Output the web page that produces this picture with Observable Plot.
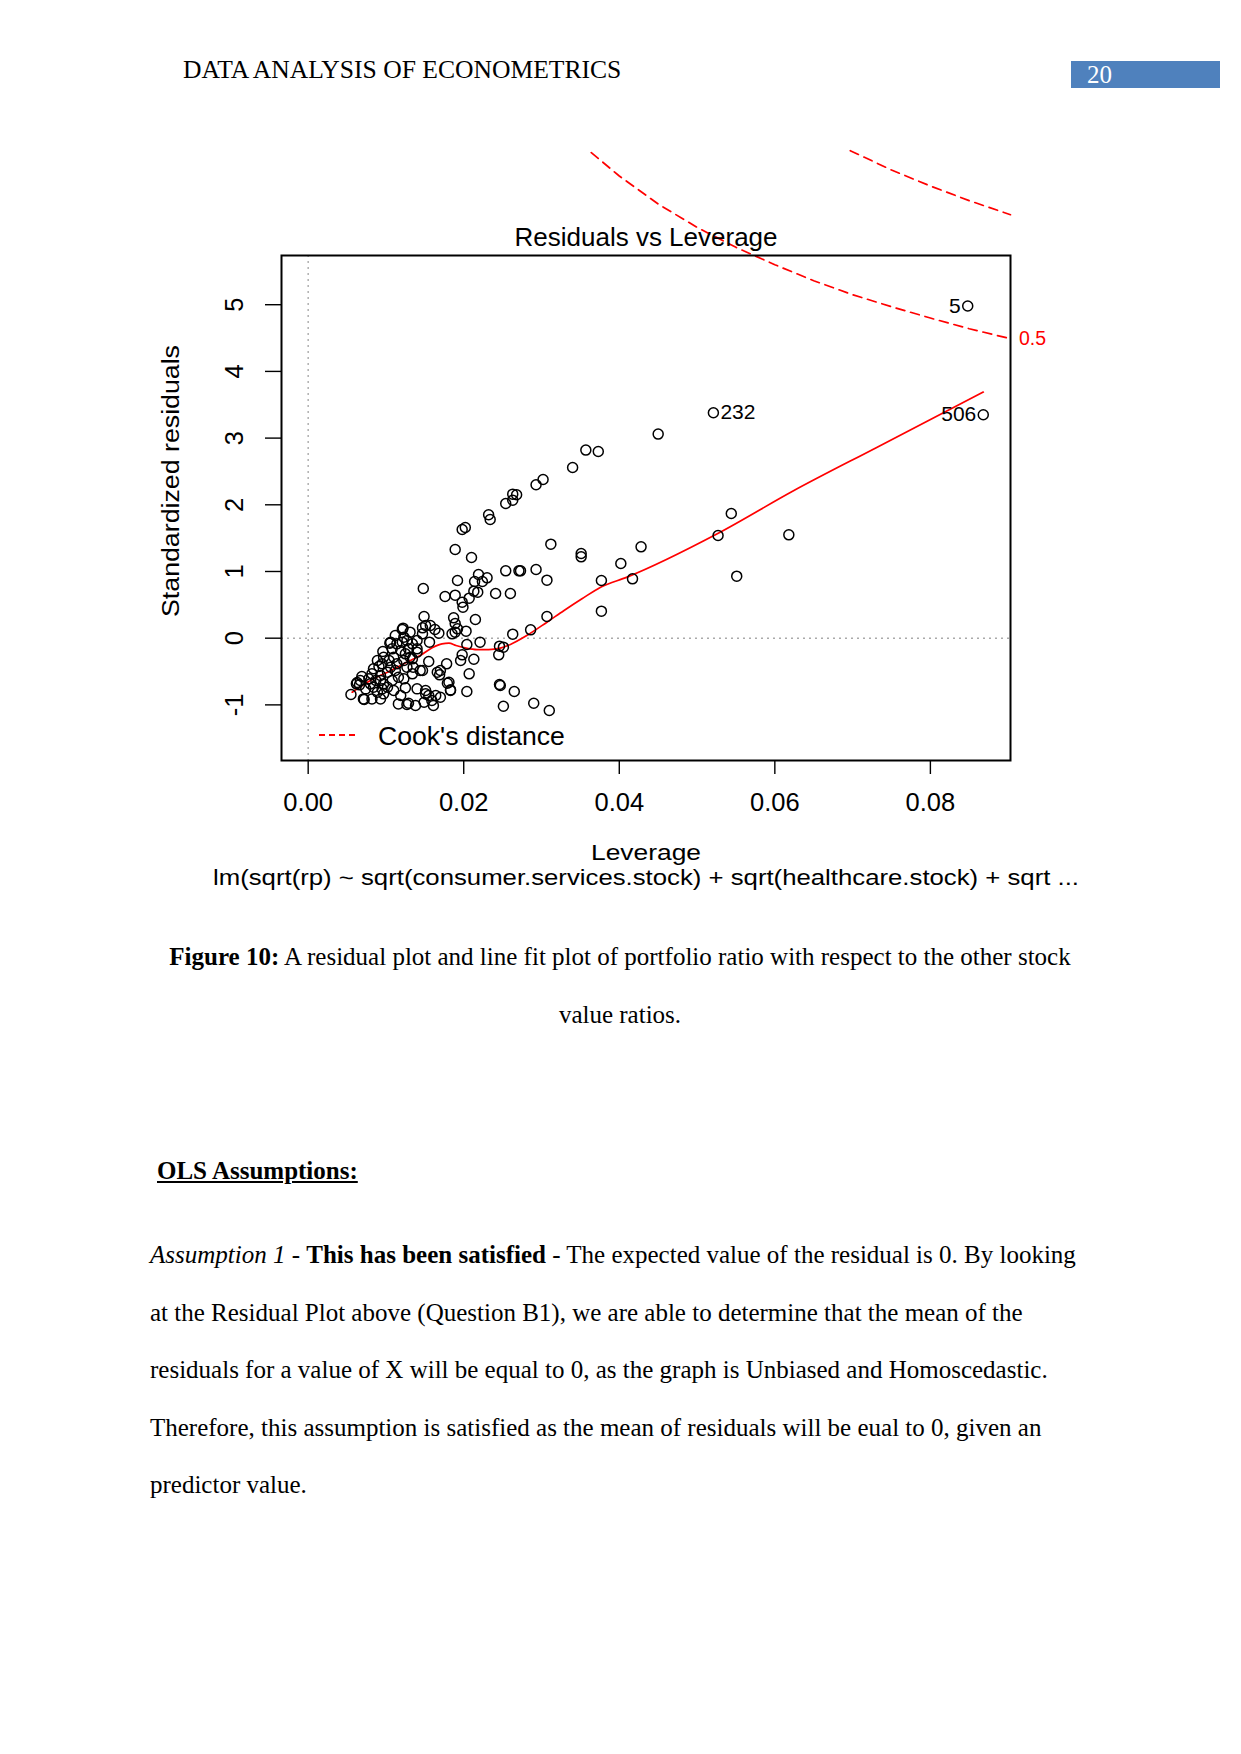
<!DOCTYPE html>
<html><head><meta charset="utf-8">
<script src="https://cdn.jsdelivr.net/npm/d3@7"></script>
<script src="https://cdn.jsdelivr.net/npm/@observablehq/plot@0.6"></script>
<style>
html,body{margin:0;padding:0;background:#fff;}
#page{position:relative;width:1241px;height:1754px;overflow:hidden;font-family:"Liberation Serif","Times New Roman",serif;color:#000;background:#fff;}
.abs{position:absolute;white-space:nowrap;line-height:1;}
.serif{font-size:25px;}
#chart{position:absolute;left:0;top:130px;}
#chart svg{overflow:visible;}
.sans{font-family:"Liberation Sans",Arial,sans-serif;}
</style>
</head><body>
<div id="page">
  <div class="abs serif" style="left:183px;top:57px;font-size:25.6px;">DATA ANALYSIS OF ECONOMETRICS</div>
  <div class="abs" style="left:1071px;top:61px;width:149px;height:27px;background:#4f81bd;"></div>
  <div class="abs serif" style="left:1087px;top:62px;color:#fff;">20</div>
  <div id="chart"></div>
  <div class="abs" style="left:319px;top:734px;width:36px;height:0;border-top:2px dashed #ff0000;"></div>
  <div class="abs sans" style="left:378px;top:723px;font-size:26.6px;">Cook's distance</div>
  <div class="abs serif" style="left:150px;top:944px;width:940px;text-align:center;"><b>Figure 10:</b> A residual plot and line fit plot of portfolio ratio with respect to the other stock</div>
  <div class="abs serif" style="left:150px;top:1002px;width:940px;text-align:center;">value ratios.</div>
  <div class="abs serif" style="left:157px;top:1158px;"><b><u>OLS Assumptions:</u></b></div>
  <div class="abs serif" style="left:150px;top:1242px;"><i>Assumption 1</i> - <b>This has been satisfied</b> - The expected value of the residual is 0. By looking</div>
  <div class="abs serif" style="left:150px;top:1300px;">at the Residual Plot above (Question B1), we are able to determine that the mean of the</div>
  <div class="abs serif" style="left:150px;top:1357px;">residuals for a value of X will be equal to 0, as the graph is Unbiased and Homoscedastic.</div>
  <div class="abs serif" style="left:150px;top:1415px;">Therefore, this assumption is satisfied as the mean of residuals will be eual to 0, given an</div>
  <div class="abs serif" style="left:150px;top:1472px;">predictor value.</div>
</div>
<script>
// ---- data ----
const leverage = [
  0.0848,0.0521,0.0868,0.0450,0.0357,0.0373,0.0340,0.0544,0.0527,0.0618,0.0351,0.0351,0.0428,0.0402,0.0377,0.0417,0.0551,
  0.0293,0.0302,0.0254,0.0263,0.0268,0.0263,0.0232,0.0234,0.0198,0.0202,0.0312,0.0189,0.0210,0.0254,0.0271,0.0273,0.0293,0.0307,
  0.0148,0.0192,0.0214,0.0219,0.0230,0.0224,0.0176,0.0189,0.0198,0.0199,0.0207,0.0213,0.0218,0.0241,0.0260,0.0377,0.0149,0.0187,
  0.0215,0.0307,0.0286,0.0263,0.0246,0.0251,0.0245,0.0221,0.0204,0.0189,0.0192,0.0185,0.0203,0.0198,0.0196,0.0213,0.0207,0.0204,
  0.0183,0.0179,0.0246,0.0247,0.0265,0.0251,0.0290,0.0310,0.0189,
  0.0151,0.0157,0.0147,0.0163,0.0121,0.0131,0.0147,0.0168,0.0156,0.0112,0.0106,0.0121,0.0134,0.0096,0.0108,0.0119,0.0110,0.0125,
  0.0134,0.0104,0.0095,0.0155,0.0144,0.0135,0.0170,0.0169,0.0166,0.0178,0.0084,0.0091,0.0082,0.0093,0.0078,0.0067,0.0102,0.0112,
  0.0108,0.0123,0.0134,0.0125,0.0087,0.0097,0.0095,0.0084,0.0074,0.0062,0.0055,0.0071,0.0082,0.0093,0.0097,0.0140,0.0151,0.0155,
  0.0164,0.0159,0.0170,0.0183,0.0181,0.0119,0.0116,0.0127,0.0138,0.0149,0.0161,
  0.0089,0.0097,0.0106,0.0114,0.0123,0.0127,0.0116,0.0093,0.0080,0.0102,0.0110,0.0089,0.0123,0.0129,0.0140,0.0140,0.0114,0.0127,
  0.0122,0.0105,0.0069,0.0063,0.0072,0.0131,0.0140,0.0147,0.0129,0.0151,0.0066
];
const stdResid = [
  4.98,3.38,3.35,3.06,2.82,2.80,2.56,1.87,1.54,1.55,1.27,1.22,1.37,1.12,0.865,0.89,0.93,
  2.30,2.38,2.02,2.07,2.15,2.16,1.85,1.78,1.63,1.66,1.41,1.33,1.21,1.01,1.01,1.01,1.03,0.87,
  0.745,0.865,0.85,0.955,0.905,0.85,0.625,0.645,0.54,0.465,0.60,0.705,0.69,0.67,0.67,0.405,0.325,0.305,
  0.28,0.325,0.125,0.06,-0.12,-0.135,-0.25,-0.06,-0.095,0.09,0.14,0.065,0.105,-0.25,-0.335,-0.315,-0.535,-0.80,
  -0.775,-0.675,-0.695,-0.71,-0.80,-1.02,-0.975,-1.085,0.22,
  0.19,0.19,0.155,0.13,0.13,0.09,0.065,0.075,-0.06,0.04,-0.06,-0.06,-0.085,-0.20,-0.16,-0.185,-0.285,-0.235,
  -0.31,-0.335,-0.385,-0.35,-0.485,-0.435,-0.485,-0.55,-0.51,-0.385,-0.46,-0.425,-0.535,-0.56,-0.61,-0.635,-0.51,-0.485,
  -0.635,-0.61,-0.535,-0.745,-0.635,-0.685,-0.76,-0.735,-0.76,-0.685,-0.845,-0.91,-0.91,-0.91,-0.835,-0.76,-0.785,-0.86,
  -0.86,-0.935,-0.885,-0.785,-0.66,-0.86,-0.985,-0.995,-1.01,-0.96,-1.01,
  -0.335,-0.285,-0.435,-0.385,-0.335,-0.435,-0.585,-0.635,-0.685,-0.735,-0.785,-0.81,0.015,-0.16,-0.16,-0.035,-0.085,-0.035,
  0.15,-0.075,-0.575,-0.665,-0.92,-0.285,-0.21,-0.485,-0.975,-0.835,-0.70
];
const labelIds = ["5","232","506"];
const labelLev = [0.0848,0.0521,0.0868];
const labelRes = [4.98,3.38,3.35];
const labelSide = ["left","right","left"];

const smoothLev = [0.00566,0.0080,0.0102,0.0123,0.0144,0.0160,0.0172,0.0181,0.0190,0.0203,0.0217,0.0232,0.0247,0.0260,0.0281,0.0307,0.0329,0.0352,0.0376,0.0410,0.0526,0.0624,0.0731,0.0868];
const smoothRes = [-0.81,-0.634,-0.51,-0.384,-0.26,-0.14,-0.085,-0.075,-0.11,-0.15,-0.172,-0.172,-0.15,-0.094,0.04,0.24,0.415,0.59,0.765,0.915,1.565,2.21,2.86,3.69];

const cook05Lev = [0.0364,0.040,0.045,0.050,0.055,0.060,0.065,0.070,0.075,0.080,0.085,0.0903];
const cook05Res = [7.28,6.93,6.51,6.16,5.86,5.60,5.36,5.15,4.97,4.80,4.64,4.49];
const cook1Lev = [0.0697,0.075,0.080,0.085,0.0903];
const cook1Res = [7.31,7.02,6.78,6.56,6.35];
const cookLabel = ["0.5"];

const xTicks = [0,0.02,0.04,0.06,0.08];
const yTicks = [-1,0,1,2,3,4,5];
const xDomain = [-0.00343,0.0903];
const yDomain = [-1.834,5.738];

const title = "Residuals vs Leverage";
const xLabel = "Leverage";
const yLabel = "Standardized residuals";
const subTitle = "lm(sqrt(rp) ~ sqrt(consumer.services.stock) + sqrt(healthcare.stock) + sqrt ...";

// ---- build tables ----
const pts = leverage.map((h,i)=>({h, r: stdResid[i]}));
const labs = labelIds.map((id,i)=>({id, h: labelLev[i], r: labelRes[i], side: labelSide[i]}));
const smooth = smoothLev.map((h,i)=>({h, r: smoothRes[i]}));
const cook05 = cook05Lev.map((h,i)=>({h, r: cook05Res[i]}));
const cook1 = cook1Lev.map((h,i)=>({h, r: cook1Res[i]}));

const chart = Plot.plot({
  width: 1241, height: 770,
  marginLeft: 281, marginRight: 231, marginTop: 125, marginBottom: 140,
  x: {domain: xDomain},
  y: {domain: yDomain},
  style: {fontFamily: "'Liberation Sans', Arial, sans-serif", fontSize: "25.5px", color: "black", background: "transparent", overflow: "visible"},
  marks: [
    Plot.ruleY([0], {stroke: "#aaaaaa", strokeWidth: 1.4, strokeDasharray: "2,4"}),
    Plot.ruleX([0], {stroke: "#aaaaaa", strokeWidth: 1.4, strokeDasharray: "2,4"}),
    Plot.line(cook05, {x: "h", y: "r", stroke: "#ff0000", strokeWidth: 1.7, strokeDasharray: "9,6"}),
    Plot.line(cook1, {x: "h", y: "r", stroke: "#ff0000", strokeWidth: 1.7, strokeDasharray: "9,6"}),
    Plot.line(smooth, {x: "h", y: "r", stroke: "#ff0000", strokeWidth: 1.7, curve: "monotone-x"}),
    Plot.dot(pts, {x: "h", y: "r", r: 5, stroke: "black", strokeWidth: 1.5, fill: "none"}),
    Plot.text(labs.filter(d=>d.side==="left"), {x: "h", y: "r", text: "id", textAnchor: "end", lineAnchor: "middle", dx: -7, fontSize: 21}),
    Plot.text(labs.filter(d=>d.side==="right"), {x: "h", y: "r", text: "id", textAnchor: "start", lineAnchor: "middle", dx: 7, fontSize: 21}),
    Plot.text(cookLabel, {frameAnchor: "right", y: () => cook05Res[cook05Res.length-1], text: d=>d, textAnchor: "middle", lineAnchor: "middle", dx: 22, fill: "#ff0000", fontSize: 19.5}),
    Plot.frame({stroke: "black", strokeWidth: 2}),
    Plot.axisX({ticks: xTicks, tickSize: 14, tickPadding: 18, tickFormat: d3.format(".2f"), label: null, strokeWidth: 1.4}),
    Plot.axisY({ticks: yTicks, tickSize: 16, tickFormat: () => "", label: null, strokeWidth: 1.4}),
    Plot.text(yTicks, {y: d=>d, frameAnchor: "left", textAnchor: "middle", lineAnchor: "middle", dx: -47, rotate: -90, text: d=>String(d), fontSize: 25.5}),
    Plot.text([title], {frameAnchor: "top", textAnchor: "middle", lineAnchor: "middle", dy: -18, fontSize: 26}),
    Plot.text([xLabel], {frameAnchor: "bottom", textAnchor: "middle", lineAnchor: "middle", dy: 93, fontSize: 21.5}),
    Plot.text([subTitle], {frameAnchor: "bottom", textAnchor: "middle", lineAnchor: "middle", dy: 118, fontSize: 21.5}),
    Plot.text([yLabel], {frameAnchor: "left", textAnchor: "middle", lineAnchor: "middle", dx: -110, dy: -27, rotate: -90, fontSize: 23})
  ]
});
// stretch the horizontally-widened labels of the original R device to their measured lengths
const stretch = new Map([[xLabel, 110], [subTitle, 866], [yLabel, 272]]);
d3.select(chart).selectAll("text").each(function() {
  const t = this.textContent;
  if (stretch.has(t) && this.childElementCount === 0) {
    this.setAttribute("textLength", stretch.get(t));
    this.setAttribute("lengthAdjust", "spacingAndGlyphs");
  }
});
document.getElementById("chart").appendChild(chart);
</script>
</body></html>
